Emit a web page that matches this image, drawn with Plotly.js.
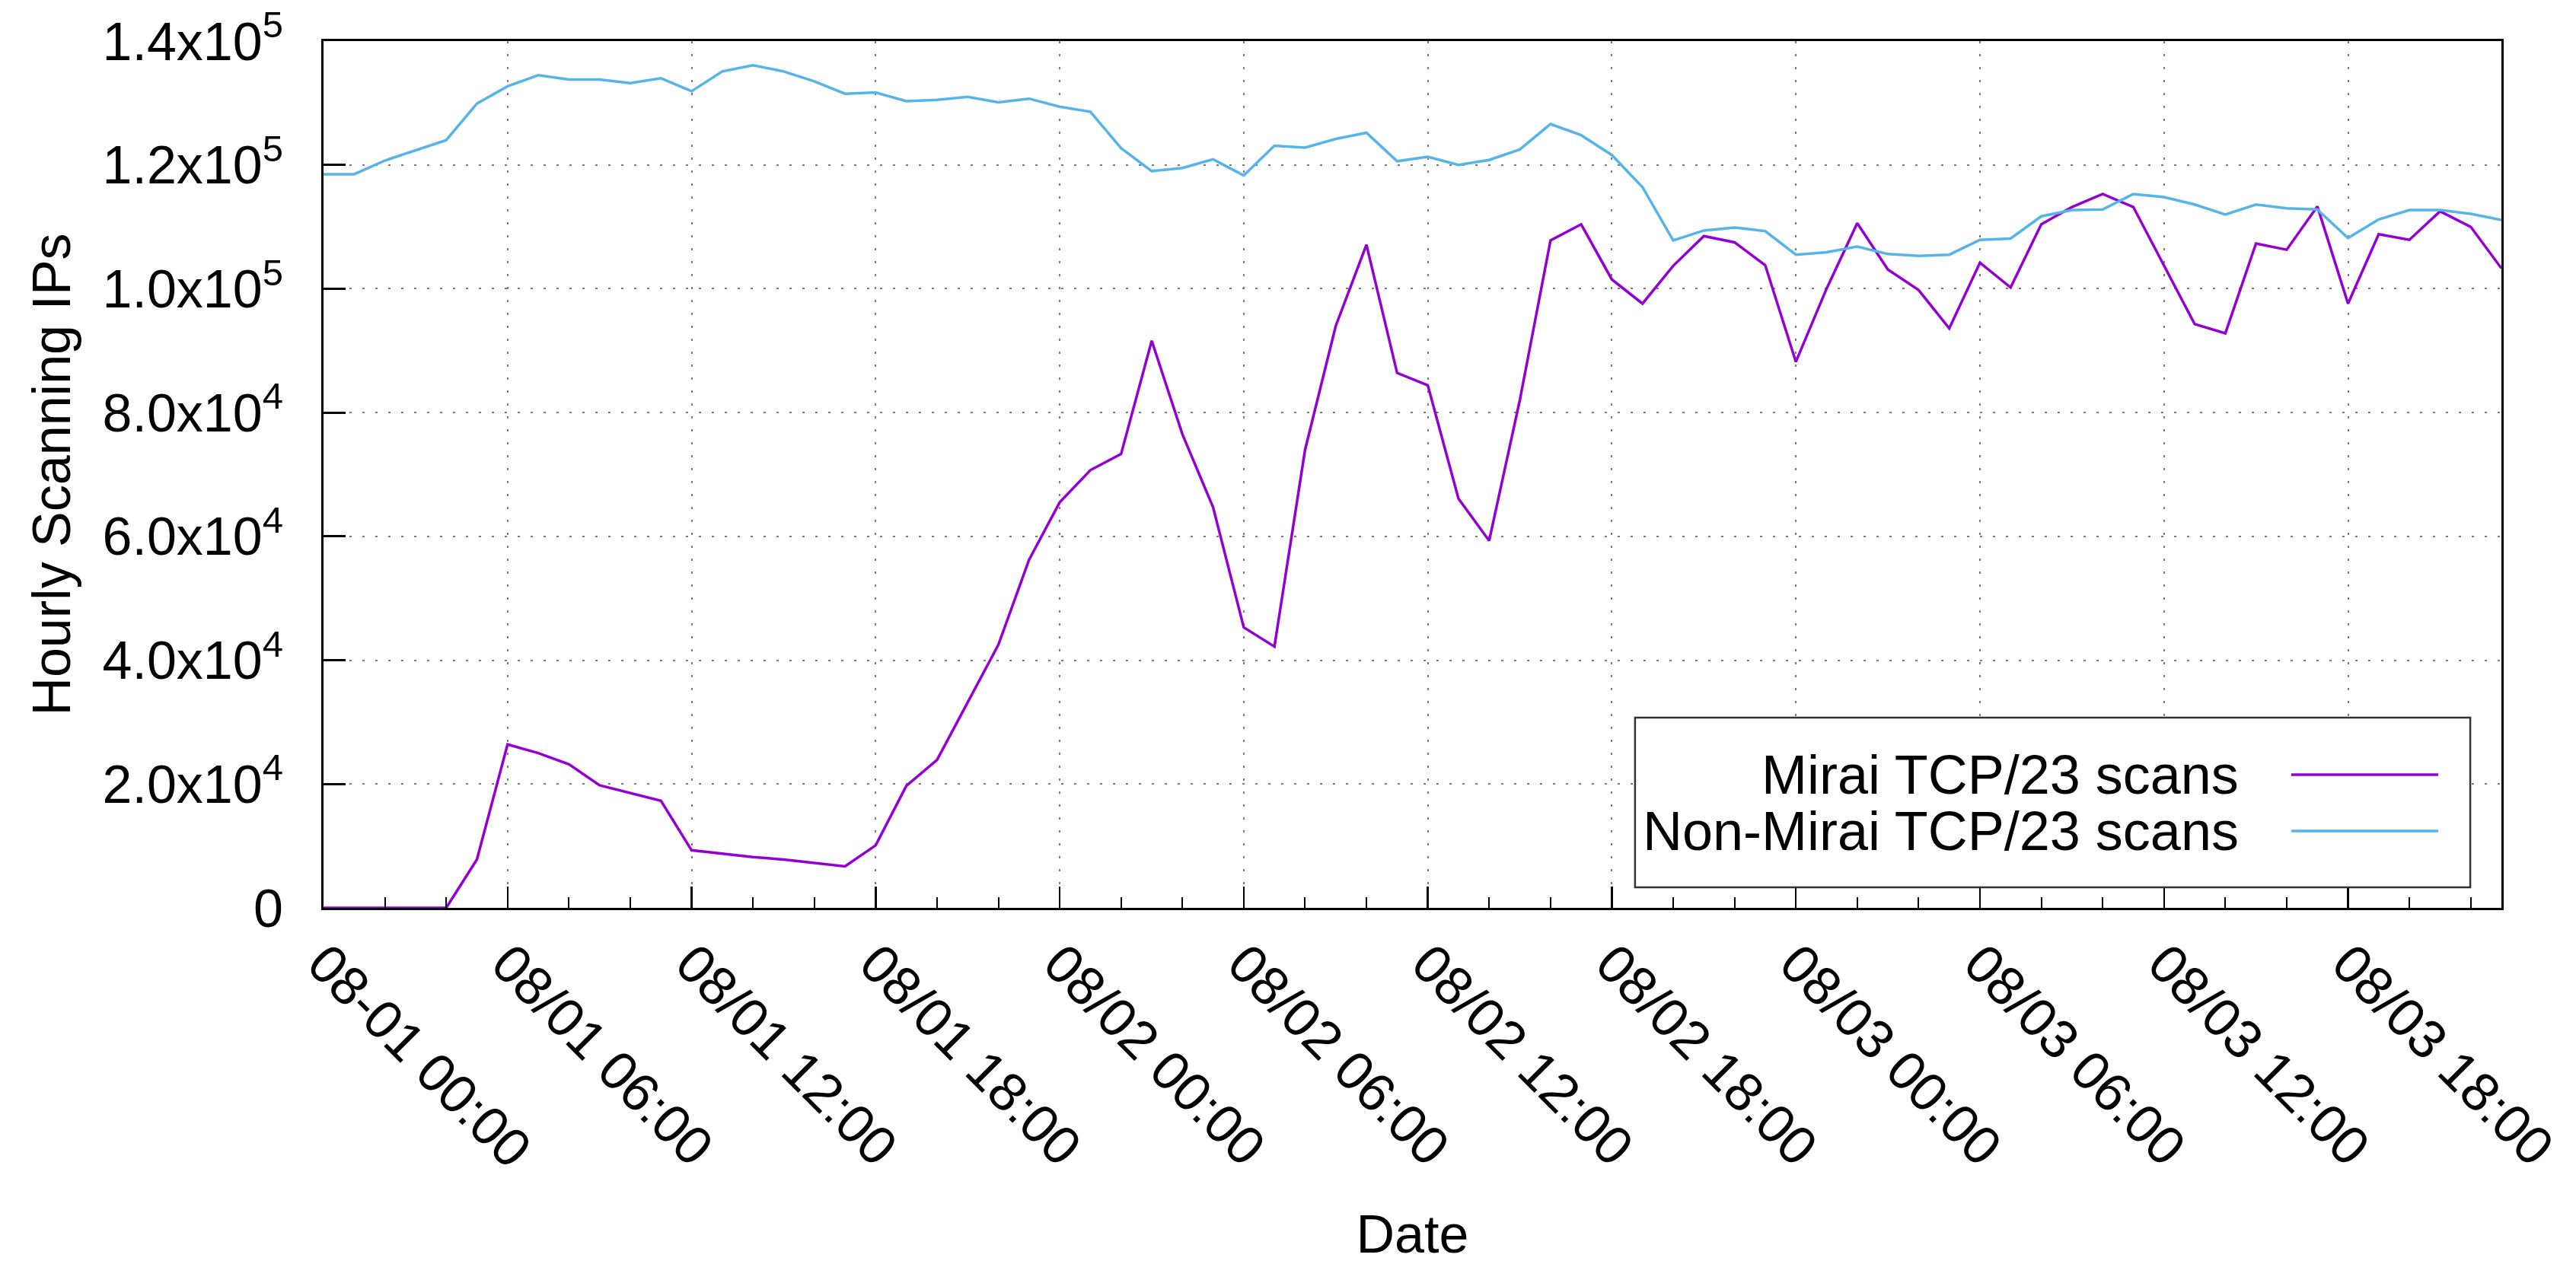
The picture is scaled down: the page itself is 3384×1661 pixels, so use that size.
<!DOCTYPE html>
<html>
<head>
<meta charset="utf-8">
<script src="https://cdn.plot.ly/plotly-3.0.1.min.js"></script>
<style>html,body{margin:0;padding:0;background:#fff;}#chart{width:3384px;height:1661px;}</style>
</head>
<body>
<div id="chart"></div>
<script>
// Hourly values, 2016-08-01 00:00 through 2016-08-03 23:00
const miraiScans = [
  0, 0, 0, 0, 0, 7800, 26400, 25000, 23200, 19800, 18600, 17300,
  9300, 8700, 8200, 7800, 7300, 6700, 10100, 19700, 23900, 33300, 42500, 56200,
  65500, 70700, 73300, 91600, 76500, 64700, 45300, 42200, 74000, 94000, 107100, 86400,
  84400, 66100, 59300, 82000, 107800, 110400, 101500, 97600, 103700, 108500, 107500, 103800,
  88200, 100000, 110600, 103100, 99800, 93600, 104200, 100200, 110400, 113200, 115300, 113200,
  103800, 94300, 92800, 107300, 106300, 113300, 97600, 108800, 107900, 112500, 110000, 103300
];
const nonMiraiScans = [
  118500, 118500, 120700, 122300, 124000, 129900, 132700, 134500, 133800, 133800, 133200, 134000,
  131900, 135100, 136100, 135100, 133500, 131500, 131700, 130300, 130500, 131000, 130100, 130700,
  129400, 128600, 122700, 119000, 119500, 120900, 118300, 123100, 122800, 124200, 125200, 120600,
  121300, 120000, 120800, 122500, 126600, 124800, 121600, 116400, 107800, 109400, 109900, 109300,
  105500, 105900, 106800, 105600, 105300, 105500, 107900, 108100, 111700, 112700, 112800, 115300,
  114800, 113600, 112000, 113600, 113000, 112800, 108200, 111200, 112700, 112700, 112100, 111100
];
const seriesNames = ["Mirai TCP/23 scans", "Non-Mirai TCP/23 scans"];
const xTickVals = [
  "2016-08-01 00:00", "2016-08-01 06:00", "2016-08-01 12:00", "2016-08-01 18:00",
  "2016-08-02 00:00", "2016-08-02 06:00", "2016-08-02 12:00", "2016-08-02 18:00",
  "2016-08-03 00:00", "2016-08-03 06:00", "2016-08-03 12:00", "2016-08-03 18:00"
];
const xTickText = [
  "08-01 00:00", "08/01 06:00", "08/01 12:00", "08/01 18:00",
  "08/02 00:00", "08/02 06:00", "08/02 12:00", "08/02 18:00",
  "08/03 00:00", "08/03 06:00", "08/03 12:00", "08/03 18:00"
];
const yTickVals = [0, 20000, 40000, 60000, 80000, 100000, 120000, 140000];
const yTickText = ["0", "2.0x10<sup>4</sup>", "4.0x10<sup>4</sup>", "6.0x10<sup>4</sup>",
  "8.0x10<sup>4</sup>", "1.0x10<sup>5</sup>", "1.2x10<sup>5</sup>", "1.4x10<sup>5</sup>"];

function hourStamp(i) {
  const d = new Date(Date.UTC(2016, 7, 1, 0, 0, 0) + i * 3600000);
  const p = n => String(n).padStart(2, "0");
  return d.getUTCFullYear() + "-" + p(d.getUTCMonth() + 1) + "-" + p(d.getUTCDate()) + " " + p(d.getUTCHours()) + ":00";
}
const times = miraiScans.map((_, i) => hourStamp(i));

const colors = ["#9400d3", "#56b4e9"];
const FONT = "Liberation Sans, Arial, Helvetica, sans-serif";

const traces = [
  {x: times, y: miraiScans, name: seriesNames[0], type: "scatter", mode: "lines",
   line: {color: colors[0], width: 3.5}, showlegend: false},
  {x: times, y: nonMiraiScans, name: seriesNames[1], type: "scatter", mode: "lines",
   line: {color: colors[1], width: 3.5}, showlegend: false}
];

// gnuplot-style key: text right-aligned, line sample on the right
const legRows = [0.1536, 0.0887];
const shapes = [
  {type: "rect", xref: "paper", yref: "paper", x0: 0.6022, x1: 0.9857, y0: 0.0237, y1: 0.2195,
   line: {color: "#333", width: 2.5}, fillcolor: "#fff", layer: "above"}
];
const annotations = [];
seriesNames.forEach((n, i) => {
  shapes.push({type: "line", xref: "paper", yref: "paper", x0: 0.9035, x1: 0.9710,
    y0: legRows[i], y1: legRows[i], line: {color: colors[i], width: 3.5}, layer: "above"});
  annotations.push({xref: "paper", yref: "paper", x: 0.8800, y: legRows[i], text: n,
    showarrow: false, xanchor: "right", yanchor: "middle",
    font: {family: FONT, size: 72, color: "#000"}});
});

const layout = {
  width: 3384, height: 1661,
  margin: {l: 425, r: 98, t: 54, b: 468},
  paper_bgcolor: "#fff", plot_bgcolor: "#fff",
  font: {family: FONT, size: 70, color: "#000"},
  showlegend: false,
  xaxis: {
    type: "date",
    range: [times[0], times[times.length - 1]],
    tickmode: "array", tickvals: xTickVals, ticktext: xTickText,
    tickangle: 45,
    ticks: "inside", ticklen: 28, tickwidth: 2.5, tickcolor: "#000",
    minor: {tickmode: "linear", tick0: "2016-08-01 00:00", dtick: 7200000,
            ticks: "inside", ticklen: 14, tickwidth: 2, tickcolor: "#000", showgrid: false},
    showline: true, linecolor: "#000", linewidth: 3, mirror: true,
    showgrid: true, gridcolor: "#7a7a7a", gridwidth: 2, griddash: "3px,14px",
    zeroline: false,
    tickfont: {family: FONT, size: 71, color: "#000"},
    ticklabelstandoff: 0,
    title: {text: "Date", font: {family: FONT, size: 70, color: "#000"}, standoff: 56}
  },
  yaxis: {
    range: [0, 140000],
    tickmode: "array", tickvals: yTickVals, ticktext: yTickText,
    ticks: "inside", ticklen: 29, tickwidth: 3, tickcolor: "#000",
    showline: true, linecolor: "#000", linewidth: 3, mirror: true,
    showgrid: true, gridcolor: "#7a7a7a", gridwidth: 2, griddash: "3px,14px",
    zeroline: false,
    tickfont: {family: FONT, size: 70, color: "#000"},
    ticklabelstandoff: 36,
    title: {text: "Hourly Scanning IPs", font: {family: FONT, size: 70, color: "#000"}, standoff: 20}
  },
  shapes: shapes,
  annotations: annotations
};

Plotly.newPlot("chart", traces, layout, {staticPlot: true, displayModeBar: false});
</script>
</body>
</html>
